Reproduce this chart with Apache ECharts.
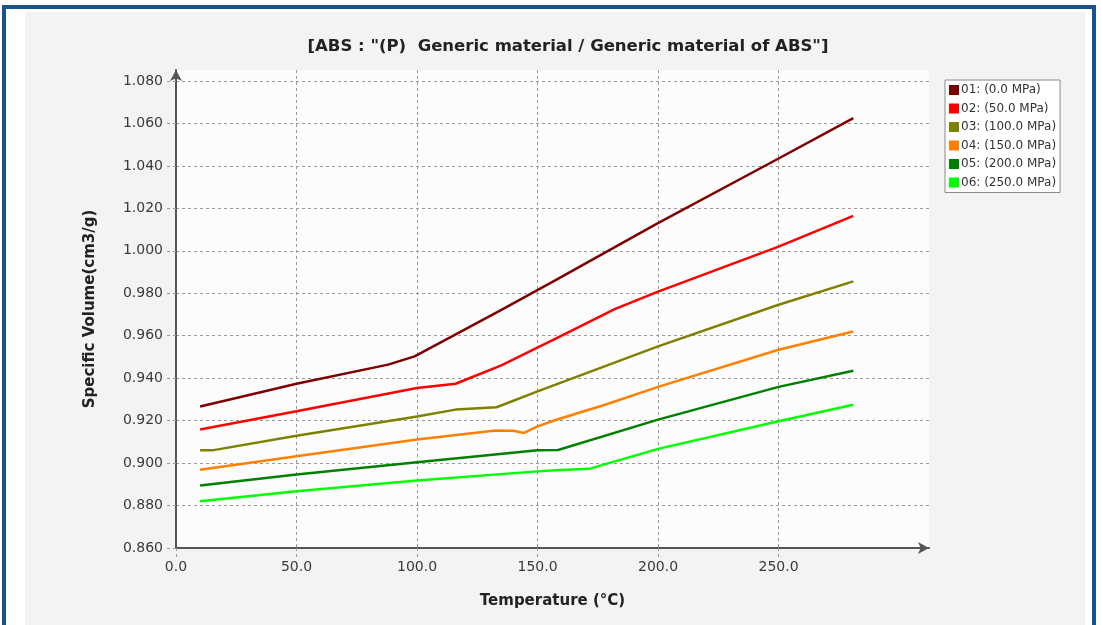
<!DOCTYPE html>
<html>
<head>
<meta charset="utf-8">
<script src="https://cdn.jsdelivr.net/npm/echarts@6/dist/echarts.min.js"></script>
<style>
  html, body { margin: 0; padding: 0; background: #ffffff; }
  #frame { position: absolute; left: 0; top: 0; width: 1101px; height: 625px; overflow: hidden; }
  #edge { position: absolute; left: 2px; top: 5px; width: 1094px; height: 640px;
          border: 4px solid #18518f; box-sizing: border-box; }
  #paper { position: absolute; left: 25px; top: 12px; width: 1060px; height: 613px; background: #f3f3f3; }
  #chart { position: absolute; left: 0; top: 0; width: 1101px; height: 625px; }
</style>
</head>
<body>
<div id="frame">
  <div id="edge"></div>
  <div id="paper"></div>
  <div id="chart"></div>
</div>
<script>
// temperature (°C) / specific volume (cm3/g)
const seriesNames = ['01: (0.0 MPa)', '02: (50.0 MPa)', '03: (100.0 MPa)',
                     '04: (150.0 MPa)', '05: (200.0 MPa)', '06: (250.0 MPa)'];
const colors = ['#800000', '#ff0000', '#808000', '#ff8000', '#008000', '#00ff00'];

const p0 = [[10, 0.9267], [25, 0.9307], [50, 0.9374], [88, 0.9464], [99, 0.9503],
            [135, 0.9722], [157.5, 0.9862], [199, 1.0125], [250, 1.0435], [281, 1.0625]];
const p50 = [[10, 0.9158], [50, 0.9244], [100, 0.9354], [116, 0.9374], [135, 0.946],
             [157.5, 0.9586], [182, 0.9725], [200, 0.9808], [250, 1.002], [281, 1.0165]];
const p100 = [[10, 0.906], [15, 0.906], [50, 0.9129], [100, 0.922], [116, 0.9252],
              [133, 0.9263], [150, 0.9338], [157.5, 0.937], [200, 0.955], [250, 0.9746], [281, 0.9856]];
const p150 = [[10, 0.8969], [50, 0.9032], [100, 0.9111], [132.6, 0.9154], [140, 0.9152],
              [144.4, 0.9142], [150, 0.9173], [157.5, 0.9203], [178, 0.9275], [200, 0.9359],
              [250, 0.9534], [281, 0.962]];
const p200 = [[10, 0.8894], [50, 0.8946], [100, 0.9004], [150, 0.906], [158.5, 0.9062],
              [200, 0.9205], [250, 0.9359], [281, 0.9435]];
const p250 = [[10, 0.882], [50, 0.8867], [100, 0.8918], [150, 0.8961], [157.5, 0.8966],
              [171.4, 0.8973], [200, 0.9067], [250, 0.9197], [281, 0.9275]];
const allData = [p0, p50, p100, p150, p200, p250];

const xTicks = [0, 50, 100, 150, 200, 250];
const yTicks = [0.86, 0.88, 0.90, 0.92, 0.94, 0.96, 0.98, 1.00, 1.02, 1.04, 1.06, 1.08];

const chart = echarts.init(document.getElementById('chart'));

const gridLine = { color: '#9a9a9a', width: 1, type: [3, 3] };
const labelFont = { fontFamily: 'DejaVu Sans', fontSize: 14, color: '#3a3a3a' };

chart.setOption({
  animation: false,
  backgroundColor: 'transparent',
  title: {
    text: '[ABS : "(P)  Generic material / Generic material of ABS"]',
    left: 563,
    top: 33,
    textAlign: 'center',
    textStyle: { fontFamily: 'DejaVu Sans', fontWeight: 'bold', fontSize: 16.5, color: '#222' }
  },
  legend: {
    orient: 'vertical',
    left: 945,
    top: 80,
    icon: 'rect',
    itemWidth: 10,
    itemHeight: 10,
    itemGap: 6.5,
    padding: [4, 4, 4, 4],
    backgroundColor: '#ffffff',
    borderColor: '#8a8a8a',
    borderWidth: 1,
    textStyle: { fontFamily: 'DejaVu Sans', fontSize: 12, color: '#333', padding: [0, 0, 0, -3] },
    data: seriesNames
  },
  grid: {
    left: 176, right: 172, top: 70, bottom: 77,
    show: true, backgroundColor: '#fcfcfc', borderWidth: 0
  },
  xAxis: {
    type: 'value',
    min: 0,
    max: 312.4,
    name: 'Temperature (°C)',
    nameLocation: 'middle',
    nameGap: 46,
    nameTextStyle: { fontFamily: 'DejaVu Sans', fontWeight: 'bold', fontSize: 15, color: '#222' },
    axisLine: { show: true, lineStyle: { color: '#555', width: 2 }, symbol: ['none', 'arrow'], symbolSize: [9, 11] },
    axisTick: { show: true, inside: false, length: 9, customValues: xTicks, lineStyle: gridLine },
    axisLabel: { customValues: xTicks, margin: 12, formatter: v => v.toFixed(1), ...labelFont },
    splitLine: { show: true, lineStyle: gridLine }
  },
  yAxis: {
    type: 'value',
    min: 0.86,
    max: 1.0852,
    name: 'Specific Volume(cm3/g)',
    nameLocation: 'middle',
    nameGap: 78,
    nameTextStyle: { fontFamily: 'DejaVu Sans', fontWeight: 'bold', fontSize: 15, color: '#222' },
    axisLine: { show: true, lineStyle: { color: '#555', width: 2 }, symbol: ['none', 'arrow'], symbolSize: [9, 11] },
    axisTick: { show: true, inside: false, length: 10, customValues: yTicks, lineStyle: gridLine },
    axisLabel: { customValues: yTicks, margin: 13, formatter: v => v.toFixed(3), ...labelFont },
    splitLine: { show: true, lineStyle: gridLine }
  },
  series: allData.map((d, i) => ({
    name: seriesNames[i],
    type: 'line',
    data: d,
    showSymbol: false,
    symbol: 'none',
    color: colors[i],
    lineStyle: { width: 2.5, color: colors[i] }
  }))
});
</script>
</body>
</html>
